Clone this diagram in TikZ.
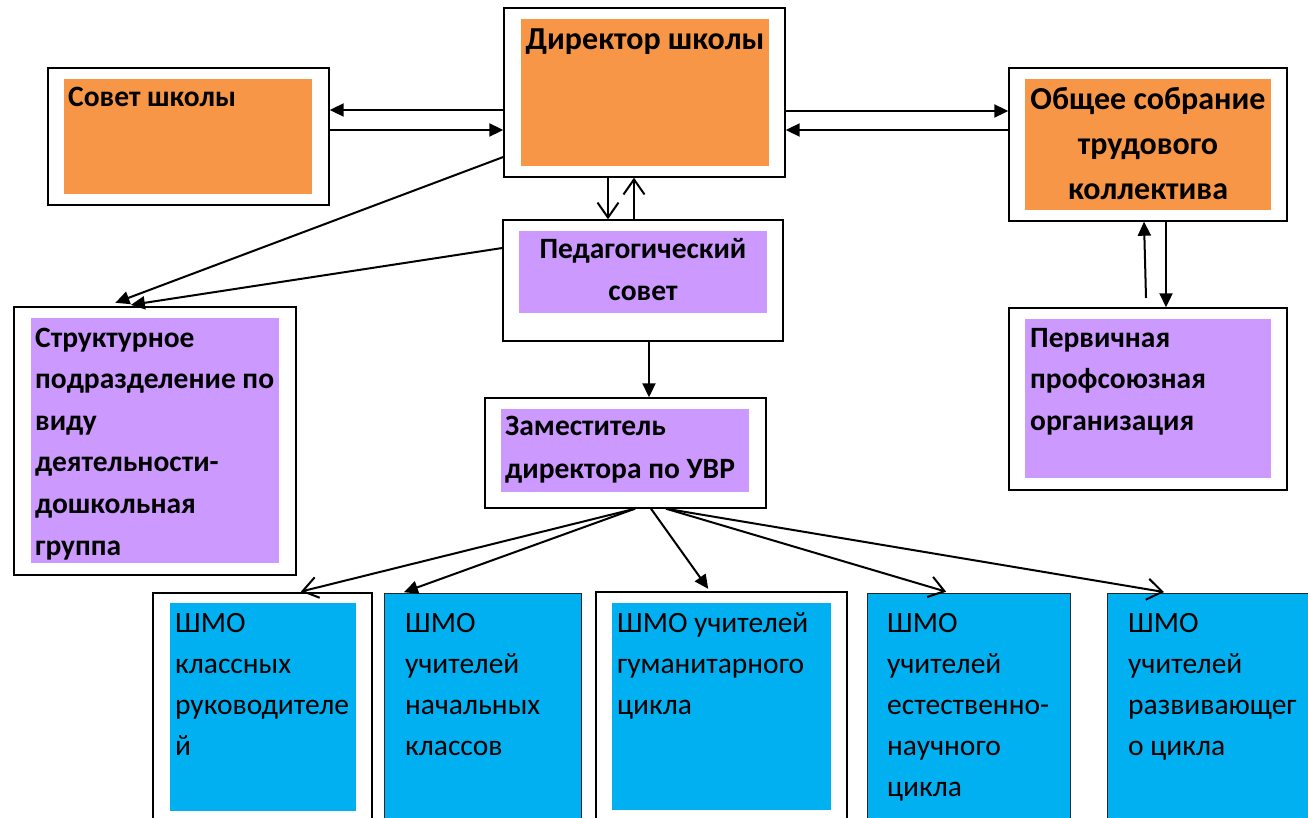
\documentclass[tikz,border=0pt]{standalone}
\usepackage{fontspec}
\setmainfont{Carlito}
\usetikzlibrary{arrows.meta,positioning}
\definecolor{boxorange}{HTML}{F79646}
\definecolor{boxviolet}{HTML}{CC99FF}
\definecolor{boxblue}{HTML}{00B0F0}

\begin{document}
\begin{tikzpicture}[
                    x=1pt, y=-1pt,
                    frame/.style={rectangle, draw, line width=1.4pt, fill=white, inner sep=0pt},
                    pad/.style={rectangle, inner sep=0pt},
                    fullblue/.style={rectangle, draw=black!85, line width=0.9pt, fill=boxblue, inner sep=0pt},
                    head/.style={inner sep=0pt, align=left, font=\fontsize{29.5}{42}\selectfont\bfseries},
                    bighead/.style={inner sep=0pt, align=center, font=\fontsize{32}{45}\selectfont\bfseries},
                    plain/.style={inner sep=0pt, align=left, font=\fontsize{29.5}{41}\selectfont},
                    arrow/.style={-{Triangle[length=14pt,width=13pt]}, line width=2pt},
                    openarrow/.style={-{Straight Barb[length=15pt,width=21pt]}, line width=2pt}
                ]
                    \clip (0,0) rectangle (1308,818);

                    % top row
                    \node[frame, minimum width=281pt, minimum height=137pt] (sovet) at (188.5,136.5) {};
                    \node[pad, fill=boxorange, minimum width=248pt, minimum height=115pt] (sovetpad) at (188,136.5) {};
                    \node[head, anchor=base west] (sovettxt) at (68,107) {Совет школы};

                    \node[frame, minimum width=281pt, minimum height=169pt] (dir) at (644.5,92.5) {};
                    \node[pad, fill=boxorange, minimum width=248pt, minimum height=147pt] (dirpad) at (645,92.5) {};
                    \node[bighead, anchor=base] (dirtxt) at (645,50) {Директор школы};

                    \node[frame, minimum width=278pt, minimum height=153pt] (obsh) at (1148,144.5) {};
                    \node[pad, fill=boxorange, minimum width=246pt, minimum height=131pt] (obshpad) at (1148,144.5) {};
                    \node[bighead, anchor=base] (obshtxt) at (1148,200) {Общее собрание\\трудового\\коллектива};

                    % middle row
                    \node[frame, minimum width=280pt, minimum height=121pt] (ped) at (643,280.5) {};
                    \node[pad, fill=boxviolet, minimum width=248pt, minimum height=82pt] (pedpad) at (643,272) {};
                    \node[head, align=center, anchor=base] (pedtxt) at (643,300) {Педагогический\\совет};

                    \node[frame, minimum width=282pt, minimum height=268pt] (st) at (155,441) {};
                    \node[pad, fill=boxviolet, minimum width=248pt, minimum height=245pt] (stpad) at (155,440.5) {};
                    \node[head, anchor=base west, font=\fontsize{29.5}{41.6}\selectfont\bfseries] (sttxt) at (35,555) {Структурное\\подразделение по\\виду\\деятельности-\\дошкольная\\группа};

                    \node[frame, minimum width=278pt, minimum height=182pt] (perv) at (1148,399) {};
                    \node[pad, fill=boxviolet, minimum width=246pt, minimum height=159pt] (pervpad) at (1148,398.5) {};
                    \node[head, anchor=base west, font=\fontsize{29.5}{41.5}\selectfont\bfseries] (pervtxt) at (1030,430) {Первичная\\профсоюзная\\организация};

                    \node[frame, minimum width=281pt, minimum height=110pt] (zam) at (625.5,453) {};
                    \node[pad, fill=boxviolet, minimum width=248pt, minimum height=83pt] (zampad) at (625,450.5) {};
                    \node[head, anchor=base west, font=\fontsize{29.5}{43}\selectfont\bfseries] (zamtxt) at (505,478) {Заместитель\\директора по УВР};

                    % bottom row
                    \node[frame, minimum width=219pt, minimum height=237pt] (b1) at (262.5,711.5) {};
                    \node[pad, fill=boxblue, minimum width=186pt, minimum height=208pt] (b1pad) at (263,707) {};
                    \node[plain, anchor=base west] (b1txt) at (175,755) {ШМО\\классных\\руководителе\\й};

                    \node[fullblue, minimum width=197pt, minimum height=237pt] (b2) at (482.5,711.5) {};
                    \node[plain, anchor=base west] (b2txt) at (405,755) {ШМО\\учителей\\начальных\\классов};

                    \node[frame, minimum width=251pt, minimum height=238pt] (b3) at (721.5,711) {};
                    \node[pad, fill=boxblue, minimum width=219pt, minimum height=207pt] (b3pad) at (721.5,706.5) {};
                    \node[plain, anchor=base west] (b3txt) at (617,714) {ШМО учителей\\гуманитарного\\цикла};

                    \node[fullblue, minimum width=203pt, minimum height=237pt] (b4) at (968.5,711.5) {};
                    \node[plain, anchor=base west] (b4txt) at (887,796) {ШМО\\учителей\\естественно-\\научного\\цикла};

                    \node[fullblue, minimum width=213pt, minimum height=237pt] (b5) at (1213.5,711.5) {};
                    \node[plain, anchor=base west] (b5txt) at (1128,755) {ШМО\\учителей\\развивающег\\о цикла};

                    % connectors
                    \draw[arrow] (dir.west |- 0,110) -- (sovet.east |- 0,110);
                    \draw[arrow] (sovet.east |- 0,130) -- (dir.west |- 0,130);
                    \draw[arrow] (dir.east |- 0,111) -- (obsh.west |- 0,111);
                    \draw[arrow] (obsh.west |- 0,130) -- (dir.east |- 0,130);
                    \draw[arrow, shorten >=10pt] (dir.west |- 0,157) -- (st.north -| 106,0);
                    \draw[arrow, shorten >=9pt] (ped.west |- 0,248) -- (st.north -| 122,0);
                    \draw[openarrow] (dir.south -| 608,0) -- (ped.north -| 608,0);
                    \draw[openarrow] (ped.north -| 634,0) -- (dir.south -| 634,0);
                    \draw[arrow] (ped.south -| 649,0) -- (zam.north -| 649,0);
                    \coordinate (pervup) at (1146,298);
                    \draw[arrow] (pervup) -- (obsh.south -| 1144,0);
                    \draw[arrow] (obsh.south -| 1166,0) -- (perv.north -| 1166,0);
                    \draw[openarrow, shorten >=3pt] (zam.south -| 635,0) -- (b1.north -| 298,0);
                    \draw[arrow, shorten >=1pt] (zam.south -| 635,0) -- (b2.north -| 403,0);
                    \draw[arrow, shorten >=3pt] (zam.south -| 651,0) -- (b3.north -| 710,0);
                    \draw[openarrow, shorten >=3pt] (zam.south -| 666,0) -- (b4.north -| 949,0);
                    \draw[openarrow, shorten >=3pt] (zam.south -| 666,0) -- (b5.north -| 1167,0);
                \end{tikzpicture}
\end{document}
